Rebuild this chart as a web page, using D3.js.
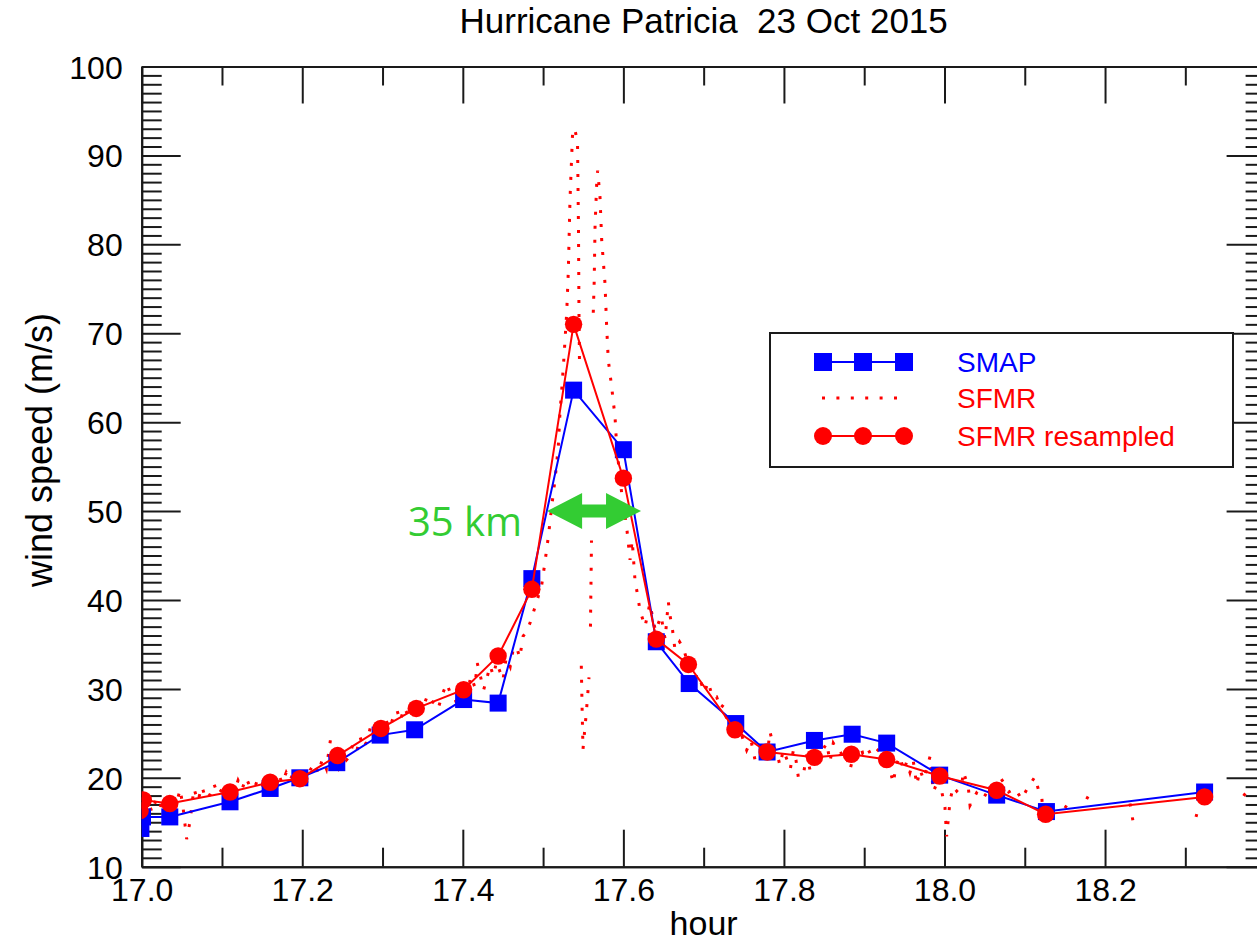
<!DOCTYPE html>
<html>
<head>
<meta charset="utf-8">
<script src="https://cdn.jsdelivr.net/npm/d3@7"></script>
<style>
  html, body { margin: 0; padding: 0; background: #fff; }
  svg { display: block; font-family: "Liberation Sans", Arial, Helvetica, sans-serif; }
</style>
</head>
<body>
<svg id="chart" width="1257" height="943"></svg>
<script>
// ---------------- data ----------------
const titleText = "Hurricane Patricia  23 Oct 2015";
const xLabel = "hour";
const yLabel = "wind speed (m/s)";
const xTickValues = [17.0, 17.2, 17.4, 17.6, 17.8, 18.0, 18.2];
const xTickLabels = ["17.0", "17.2", "17.4", "17.6", "17.8", "18.0", "18.2"];
const yTickValues = [10, 20, 30, 40, 50, 60, 70, 80, 90, 100];
const yTickLabels = ["10", "20", "30", "40", "50", "60", "70", "80", "90", "100"];

const smapHour = [16.999, 17.001, 17.035, 17.110, 17.160, 17.197, 17.243, 17.297, 17.340, 17.401, 17.444, 17.486,
  17.538, 17.600, 17.641, 17.682, 17.740, 17.779, 17.838, 17.885, 17.928, 17.994, 18.065, 18.127, 18.324];
const smapSpeed = [14.3, 15.6, 15.6, 17.3, 18.8, 20.0, 21.7, 24.8, 25.4, 28.8, 28.4, 42.4,
  63.6, 56.9, 35.3, 30.6, 26.1, 22.9, 24.2, 24.9, 23.9, 20.3, 18.05, 16.2, 18.4];

const resHour = [16.998, 17.002, 17.035, 17.110, 17.160, 17.197, 17.244, 17.298, 17.342, 17.401, 17.444, 17.486,
  17.538, 17.600, 17.641, 17.681, 17.739, 17.779, 17.838, 17.884, 17.928, 17.994, 18.065, 18.126, 18.324];
const resSpeed = [16.3, 17.5, 17.1, 18.4, 19.5, 19.9, 22.5, 25.55, 27.8, 29.9, 33.7, 41.2,
  71.0, 53.7, 35.6, 32.75, 25.4, 22.9, 22.3, 22.65, 22.05, 20.2, 18.6, 15.9, 17.85];

// SFMR raw samples (null = data gap)
const sfmrHour = [
  17.000,17.004,17.008,17.013,17.018,17.023,17.028,17.033,17.038,17.043,17.048,17.052,17.056,17.060,17.065,17.070,
  17.075,17.080,17.085,17.090,17.095,17.100,17.105,17.110,17.115,17.120,17.125,17.130,17.135,17.140,17.145,17.150,
  17.155,17.160,17.165,17.170,17.175,17.180,17.185,17.190,17.195,17.200,17.205,17.210,17.215,17.220,17.225,17.230,
  17.235,17.240,17.245,17.250,17.255,17.259,17.263,17.268,17.272,17.276,17.280,17.285,17.290,17.295,17.299,17.304,
  17.309,17.314,17.318,17.322,17.327,17.332,17.336,17.340,17.345,17.350,17.355,17.360,17.365,17.370,17.375,17.380,
  17.385,17.390,17.396,17.400,17.405,17.410,17.415,17.418,17.422,17.426,17.430,17.434,17.438,17.442,17.446,17.450,
  17.454,17.459,17.463,17.467,17.471,17.475,17.479,17.4837,17.4899,17.4940,17.4983,17.5024,17.5065,17.5107,17.5148,
  17.5189,17.5210,17.5235,17.5260,17.5294,17.5314,17.5335,17.5369,17.5395,17.5429,17.5441,17.5447,17.5453,
  17.5460,
  17.5476,17.5486,17.5497,17.5540,17.5572,
  17.5580,
  17.5590,17.5603,
  17.5610,
  17.5625,17.5636,17.5647,17.5668,17.5680,17.5709,17.5730,17.5771,17.5792,17.5812,17.5855,17.5896,17.5917,17.5979,
  17.6041,17.6083,17.6110,17.6145,17.6182,17.6207,17.6270,17.6330,17.6400,17.6470,17.6520,17.6560,17.6580,17.6610,
  17.6643,17.6700,17.6746,17.6800,17.6860,17.6910,17.6955,17.7010,17.7058,17.7110,17.7162,17.7210,17.7245,17.7290,
  17.7328,17.7380,17.7432,17.7480,17.7536,17.7590,17.7640,17.7702,17.7750,17.7790,17.7826,17.7870,17.7910,17.7950,
  17.7992,17.8040,17.8080,17.8117,17.8150,17.8179,17.8241,17.8280,17.8325,17.8370,17.8408,17.8470,17.8533,17.8574,
  17.8615,17.8698,17.8760,17.8823,17.8870,17.8926,17.8980,17.9031,17.9093,17.9160,17.9238,17.9280,17.9321,17.9362,
  17.9400,17.9446,17.9490,17.9529,17.9570,17.9611,17.9654,17.9695,17.9740,17.9778,17.9820,17.9861,17.9930,18.0006,
  18.0017,18.0027,18.0070,18.0110,18.0152,18.0214,18.0234,18.0296,18.0318,18.0400,18.0480,18.0560,18.0640,18.0691,
  18.0733,18.0800,18.0880,18.0960,18.1044,18.1127,18.1169,18.1211,18.1231,18.1260,
  18.1300,
  18.1500,18.1522,
  18.1600,
  18.1771,18.1812,
  18.2000,
  18.2311,18.2332,18.2352,
  18.2500,
  18.3120,18.3204,
  18.3300,
  18.3722,18.3765,18.3850
];
const sfmrSpeed = [
  17.8,16.4,17.3,16.1,17.6,16.7,18.0,16.8,18.3,17.1,18.7,16.3,13.1,15.0,18.8,17.4,
  19.0,17.6,18.1,19.3,18.1,18.7,17.9,19.1,18.3,19.7,18.7,20.0,19.0,18.8,19.9,19.2,
  20.2,19.0,19.8,20.5,19.4,20.6,19.7,20.9,19.5,20.4,19.3,20.9,21.6,20.5,22.1,21.0,
  24.2,22.4,21.2,23.0,22.0,22.4,23.8,23.0,24.6,23.4,24.0,25.7,24.6,26.4,25.2,26.5,
  25.6,27.0,27.6,26.4,27.9,27.0,28.4,26.5,28.7,27.9,29.0,28.2,28.8,28.0,29.5,30.6,
  29.4,28.9,27.6,30.2,29.3,31.4,30.2,32.9,31.4,29.9,31.2,32.6,31.5,33.0,32.0,31.0,
  33.5,32.5,34.6,34.7,33.5,35.9,36.4,37.4,39.2,40.4,41.7,44.3,47.1,50.5,53.5,
  57.2,61.0,64.0,67.3,72.3,76.9,85.0,92.9,93.0,91.4,81.6,72.3,67.0,
  null,
  32.6,27.8,23.2,27.5,31.3,
  null,
  37.0,46.7,
  null,
  72.3,75.6,81.9,86.9,88.3,85.3,80.5,75.6,70.7,67.0,63.9,60.6,57.2,52.0,
  48.2,44.5,46.7,42.2,40.3,38.8,37.0,39.6,36.5,38.2,35.6,39.8,38.3,36.8,
  34.4,35.3,34.6,33.0,32.0,30.5,31.0,29.6,30.8,29.0,29.1,27.8,28.2,26.5,
  26.9,25.6,24.0,24.6,23.1,24.2,22.0,21.6,23.0,22.4,25.2,23.5,22.9,21.4,
  23.1,22.0,21.0,23.1,22.0,20.1,20.2,22.6,20.9,22.4,21.6,22.9,23.9,21.8,
  23.9,22.7,23.0,20.9,22.6,24.4,22.8,23.5,22.4,23.0,23.8,22.3,20.9,19.4,
  21.5,22.4,20.8,21.8,20.6,21.9,19.2,20.9,19.8,21.0,22.4,18.4,20.0,16.7,
  14.9,13.4,17.5,19.0,18.5,19.1,20.7,19.0,16.9,18.3,17.6,18.9,18.0,20.1,
  19.5,18.4,18.8,17.6,19.0,20.1,18.7,18.05,14.9,15.5,
  null,
  16.6,16.9,
  null,
  17.6,18.3,
  null,
  17.1,16.0,14.9,
  null,
  15.8,15.6,
  null,
  18.2,17.9,18.5
];

const legendLabels = ["SMAP", "SFMR", "SFMR resampled"];
const annotText = "35 km";
const arrowHour = [17.505, 17.622];
const arrowSpeed = 50;

// ---------------- layout ----------------
const svg = d3.select("#chart");
svg.append("rect").attr("width", 1257).attr("height", 943).attr("fill", "#fff");

const pL = 141.7, pR = 1265.6, pT = 66.5, pB = 866.7;
const x = d3.scaleLinear().domain([17.0, 18.4]).range([pL, pR]);
const y = d3.scaleLinear().domain([10, 100]).range([pB, pT]);

const BLUE = "#0000ff", RED = "#ff0000", GREEN = "#33cc33", AX = "#1a1a1a";

svg.append("defs").append("clipPath").attr("id", "plotclip")
  .append("rect").attr("x", pL).attr("y", pT).attr("width", pR - pL).attr("height", pB - pT);

// ---------------- axes ----------------
const xMinor = [17.1, 17.3, 17.5, 17.7, 17.9, 18.1, 18.3];
const yMinor = d3.range(11, 100, 1).filter(v => v % 10 !== 0);

function styleAxis(g) {
  g.selectAll("path.domain").attr("stroke", AX).attr("stroke-width", 2);
  g.selectAll(".tick line").attr("stroke", AX).attr("stroke-width", 2);
}

// bottom
const gB = svg.append("g").attr("transform", `translate(0,${pB})`)
  .call(d3.axisBottom(x).tickValues(xTickValues).tickSize(-37).tickSizeOuter(0).tickPadding(12)
    .tickFormat((d, i) => xTickLabels[i]));
styleAxis(gB);
gB.selectAll("text").attr("font-size", 32).attr("fill", "#000").attr("font-family", "Liberation Sans, Arial, sans-serif");
const gBm = svg.append("g").attr("transform", `translate(0,${pB})`)
  .call(d3.axisBottom(x).tickValues(xMinor).tickSize(-19).tickSizeOuter(0).tickFormat(""));
styleAxis(gBm);

// top
const gT = svg.append("g").attr("transform", `translate(0,${pT})`)
  .call(d3.axisTop(x).tickValues(xTickValues).tickSize(-37).tickSizeOuter(0).tickFormat(""));
styleAxis(gT);
const gTm = svg.append("g").attr("transform", `translate(0,${pT})`)
  .call(d3.axisTop(x).tickValues(xMinor).tickSize(-19).tickSizeOuter(0).tickFormat(""));
styleAxis(gTm);

// left
const gL = svg.append("g").attr("transform", `translate(${pL},0)`)
  .call(d3.axisLeft(y).tickValues(yTickValues).tickSize(-39).tickSizeOuter(0).tickPadding(19)
    .tickFormat((d, i) => yTickLabels[i]));
styleAxis(gL);
gL.selectAll("text").attr("font-size", 32).attr("fill", "#000").attr("dy", "0.36em").attr("font-family", "Liberation Sans, Arial, sans-serif");
const gLm = svg.append("g").attr("transform", `translate(${pL},0)`)
  .call(d3.axisLeft(y).tickValues(yMinor).tickSize(-20).tickSizeOuter(0).tickFormat(""));
styleAxis(gLm);

// right
const gR = svg.append("g").attr("transform", `translate(${pR},0)`)
  .call(d3.axisRight(y).tickValues(yTickValues).tickSize(-39).tickSizeOuter(0).tickFormat(""));
styleAxis(gR);
const gRm = svg.append("g").attr("transform", `translate(${pR},0)`)
  .call(d3.axisRight(y).tickValues(yMinor).tickSize(-20).tickSizeOuter(0).tickFormat(""));
styleAxis(gRm);

// titles
svg.append("text").attr("x", (pL + pR) / 2).attr("y", 33).attr("text-anchor", "middle")
  .attr("font-size", 35).style("white-space", "pre").attr("fill", "#000").text(titleText);
svg.append("text").attr("x", (pL + pR) / 2).attr("y", 935).attr("text-anchor", "middle")
  .attr("font-size", 34).attr("fill", "#000").text(xLabel);
svg.append("text").attr("transform", `translate(52,450) rotate(-90)`).attr("text-anchor", "middle")
  .attr("font-size", 36).attr("fill", "#000").text(yLabel);

// ---------------- data marks ----------------
const plot = svg.append("g").attr("clip-path", "url(#plotclip)");

const sfmr = sfmrHour.map((h, i) => ({ h, v: sfmrSpeed[i] }));
const smap = smapHour.map((h, i) => ({ h, v: smapSpeed[i] }));
const res = resHour.map((h, i) => ({ h, v: resSpeed[i] }));

const line = d3.line().defined(d => d.v !== null).x(d => x(d.h)).y(d => y(d.v));

plot.append("path").datum(sfmr).attr("d", line).attr("fill", "none")
  .attr("stroke", RED).attr("stroke-width", 3).attr("stroke-dasharray", "3,11");

plot.append("path").datum(smap).attr("d", line).attr("fill", "none")
  .attr("stroke", BLUE).attr("stroke-width", 2);
plot.selectAll("rect.smap").data(smap).join("rect").attr("class", "smap")
  .attr("x", d => x(d.h) - 8.5).attr("y", d => y(d.v) - 8.5).attr("width", 17).attr("height", 17)
  .attr("fill", BLUE);

plot.append("path").datum(res).attr("d", line).attr("fill", "none")
  .attr("stroke", RED).attr("stroke-width", 2);
plot.selectAll("circle.res").data(res).join("circle").attr("class", "res")
  .attr("cx", d => x(d.h)).attr("cy", d => y(d.v)).attr("r", 8.7).attr("fill", RED);

// ---------------- annotation ----------------
const ax0 = x(arrowHour[0]), ax1 = x(arrowHour[1]), ay = y(arrowSpeed);
const headL = 35, headH = 18, shaftH = 6.5;
svg.append("path").attr("fill", GREEN).attr("d",
  `M${ax0},${ay} L${ax0 + headL},${ay - headH} L${ax0 + headL},${ay - shaftH} L${ax1 - headL},${ay - shaftH}` +
  ` L${ax1 - headL},${ay - headH} L${ax1},${ay} L${ax1 - headL},${ay + headH} L${ax1 - headL},${ay + shaftH}` +
  ` L${ax0 + headL},${ay + shaftH} L${ax0 + headL},${ay + headH} Z`);
svg.append("text").attr("x", ax0 - 25).attr("y", ay + 25).attr("text-anchor", "end")
  .attr("font-family", "Open Sans, sans-serif").attr("font-size", 40).attr("fill", GREEN).text(annotText);

// ---------------- legend ----------------
const lg = svg.append("g");
lg.append("rect").attr("x", 770).attr("y", 333).attr("width", 463).attr("height", 134)
  .attr("fill", "#fff").attr("stroke", AX).attr("stroke-width", 2);
const symX = [823, 863, 904];
const rowY = [362, 398, 436];
const txtX = 957;
lg.append("line").attr("x1", symX[0]).attr("x2", symX[2]).attr("y1", rowY[0]).attr("y2", rowY[0])
  .attr("stroke", BLUE).attr("stroke-width", 2);
lg.selectAll("rect.ls").data(symX).join("rect").attr("class", "ls")
  .attr("x", d => d - 9).attr("y", rowY[0] - 9).attr("width", 18).attr("height", 18).attr("fill", BLUE);
lg.append("line").attr("x1", 822).attr("x2", 906).attr("y1", rowY[1]).attr("y2", rowY[1])
  .attr("stroke", RED).attr("stroke-width", 3).attr("stroke-dasharray", "3,11.4");
lg.append("line").attr("x1", symX[0]).attr("x2", symX[2]).attr("y1", rowY[2]).attr("y2", rowY[2])
  .attr("stroke", RED).attr("stroke-width", 2);
lg.selectAll("circle.lc").data(symX).join("circle").attr("class", "lc")
  .attr("cx", d => d).attr("cy", rowY[2]).attr("r", 9).attr("fill", RED);
lg.selectAll("text.lt").data(legendLabels).join("text").attr("class", "lt")
  .attr("x", txtX).attr("y", (d, i) => rowY[i]).attr("dy", "0.36em")
  .attr("font-size", 28).attr("fill", (d, i) => i === 0 ? BLUE : RED).text(d => d);
</script>
</body>
</html>
